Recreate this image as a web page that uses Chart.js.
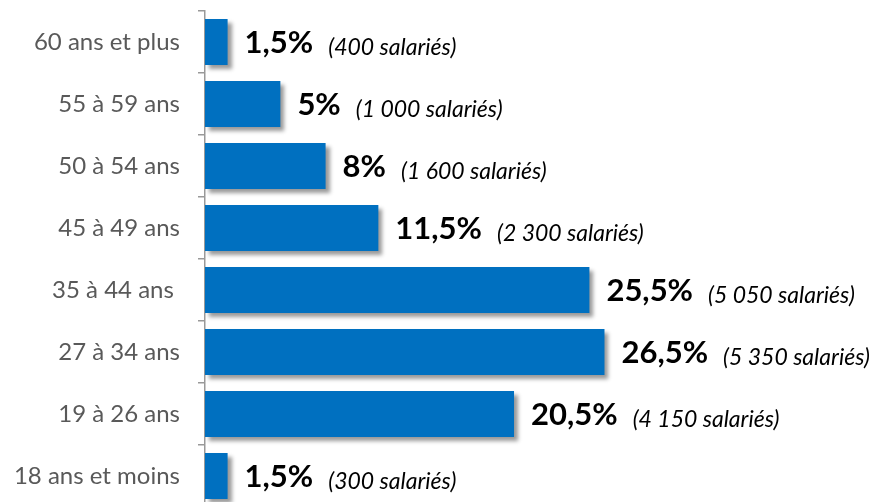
<!DOCTYPE html>
<html><head><meta charset="utf-8">
<script src="https://cdn.jsdelivr.net/npm/chart.js@4"></script>
<style>html,body{margin:0;padding:0;overflow:hidden;background:#fff}#wrap{width:879px;height:507px}</style>
</head><body><div id="wrap"><canvas id="c" width="879" height="507"></canvas></div>
<script>
const categories = ["60 ans et plus", "55 à 59 ans", "50 à 54 ans", "45 à 49 ans", "35 à 44 ans ", "27 à 34 ans", "19 à 26 ans", "18 ans et moins"];
const percentValues = [1.5, 5, 8, 11.5, 25.5, 26.5, 20.5, 1.5];
const employeeCounts = [400, 1000, 1600, 2300, 5050, 5350, 4150, 300];

const fmtPct = v => String(v).replace('.', ',') + '%';
const fmtCount = n => '(' + String(n).replace(/\B(?=(\d{3})+(?!\d))/g, ' ') + ' salariés)';

const shadowPlugin = {
  id: 'shadow',
  beforeDatasetsDraw(chart) {
    const ctx = chart.ctx;
    ctx.save();
    ctx.shadowColor = 'rgba(0,0,0,0.4)';
    ctx.shadowBlur = 4;
    ctx.shadowOffsetX = 4;
    ctx.shadowOffsetY = 4;
  },
  afterDatasetsDraw(chart) {
    chart.ctx.restore();
    const ctx = chart.ctx;
    const meta = chart.getDatasetMeta(0);
    ctx.save();
    meta.data.forEach((bar, i) => {
      const x = bar.x + 17;
      const y = bar.y;
      ctx.textBaseline = 'alphabetic';
      ctx.textAlign = 'left';
      ctx.fillStyle = '#000';
      ctx.font = 'bold 31px Lato';
      const t = fmtPct(percentValues[i]);
      ctx.fillText(t, x, y + 11);
      const w = ctx.measureText(t).width;
      ctx.font = 'italic 23px Lato';
      ctx.fillText(fmtCount(employeeCounts[i]), x + w + 15, y + 13);
    });
    ctx.restore();
  }
};

new Chart(document.getElementById('c'), {
  type: 'bar',
  data: {
    labels: categories,
    datasets: [{
      data: percentValues,
      backgroundColor: '#0070C0',
      borderWidth: 0,
      barPercentage: 0.74,
      categoryPercentage: 1.0
    }]
  },
  options: {
    indexAxis: 'y',
    responsive: false,
    animation: false,
    layout: { padding: { top: 11, right: 71, left: 0, bottom: 0 } },
    plugins: { legend: { display: false }, tooltip: { enabled: false } },
    scales: {
      x: { display: false, min: 0, max: 40 },
      y: {
        afterFit(scale) { scale.width = 205; scale.paddingTop = 0; scale.paddingBottom = 0; },
        border: { display: true, color: '#999999', width: 1.5 },
        grid: { offset: true, drawOnChartArea: false, drawTicks: true, tickLength: 7, color: '#999999', lineWidth: 1.5 },
        ticks: { color: '#595959', font: { family: 'Lato', size: 24 }, padding: 18 }
      }
    }
  },
  plugins: [shadowPlugin]
});
</script>
</body></html>
